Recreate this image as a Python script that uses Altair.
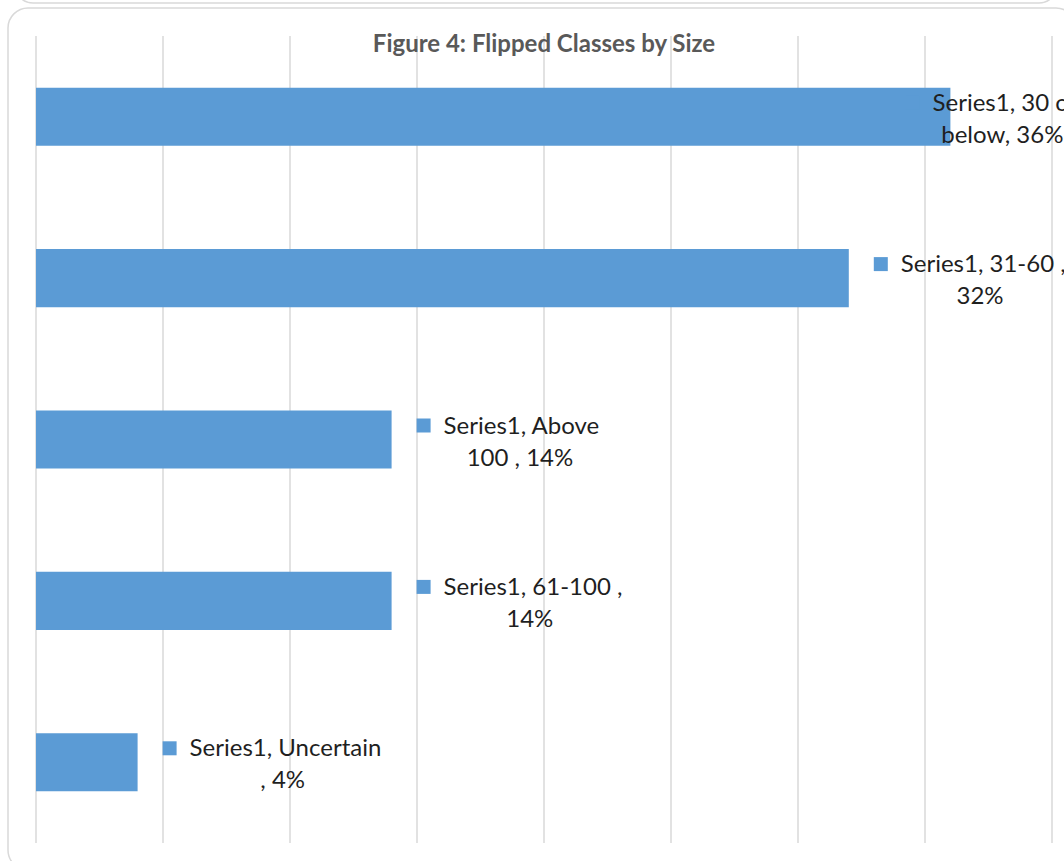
import altair as alt
import pandas as pd

# ---------------- data ----------------
chart_title = "Figure 4: Flipped Classes by Size"
categories = ["30 or below", "31-60", "Above 100", "61-100", "Uncertain"]
values = [36, 32, 14, 14, 4]
label_line1 = ["Series1, 30 or", "Series1, 31-60 ,", "Series1, Above",
               "Series1, 61-100 ,", "Series1, Uncertain"]
label_line2 = ["below, 36%", "32%", "100 , 14%", "14%", ", 4%"]
x_ticks = [0, 5, 10, 15, 20, 25, 30, 35, 40]

# ---------------- layout / style ----------------
W, H = 1016, 807
XMAX = 40
PX = W / XMAX
BAR_COLOR = "#5b9bd5"
GRID = "#d9d9d9"
FONT = "Lato"
LABEL_SIZE = 24
TITLE_SIZE = 24

# approximate Lato advance widths (em)
LATO_W = {
    "S": .51, "e": .52, "r": .36, "i": .24, "s": .42, ",": .2, " ": .19,
    "A": .68, "b": .56, "o": .56, "v": .50, "U": .67, "n": .56, "c": .46,
    "t": .36, "a": .49, "-": .35, "l": .24, "w": .76, "%": .78,
}
for d in "0123456789":
    LATO_W[d] = .58


def text_width(s, size):
    return sum(LATO_W.get(ch, .5) for ch in s) * size


rows = []
for c, v, l1, l2 in zip(categories, values, label_line1, label_line2):
    w1 = text_width(l1, LABEL_SIZE)
    start = v * PX + 52
    limit = W + 20
    if start + w1 > limit:
        start = limit - w1
    rows.append(dict(cat=c, value=v, line1=l1, line2=l2,
                     xsq=(start - 20) / PX, x1=start / PX,
                     xc=(start + w1 / 2) / PX))
df = pd.DataFrame(rows)
ticks_df = pd.DataFrame({"tick": x_ticks})
dummy = pd.DataFrame({"d": [0]})

xscale = alt.Scale(domain=[0, XMAX], nice=False, zero=True)
yscale = alt.Scale(paddingInner=0.64, paddingOuter=0.32)
ycat = alt.Y("cat:N", sort=categories, scale=yscale, axis=None)

outer_box = alt.Chart(dummy).mark_rect(
    fill="transparent", stroke=GRID, strokeWidth=1.5, cornerRadius=20,
    x=-28, x2=1040, y=-28, y2=834
)

upper_box = alt.Chart(dummy).mark_rect(
    fill="transparent", stroke=GRID, strokeWidth=1.5, cornerRadius=18,
    x=-21, x2=1021, y=-120, y2=-33
)

grid = alt.Chart(ticks_df).mark_rule(color=GRID, strokeWidth=1.5).encode(
    x=alt.X("tick:Q", scale=xscale, axis=None),
    y=alt.value(0), y2=alt.value(H),
)

bars = alt.Chart(df).mark_bar(color=BAR_COLOR).encode(
    x=alt.X("value:Q", scale=xscale, axis=None),
    y=ycat,
)

squares = alt.Chart(df).mark_square(
    color=BAR_COLOR, size=196, opacity=1, yOffset=-14
).encode(x=alt.X("xsq:Q", scale=xscale, axis=None), y=ycat)

line1 = alt.Chart(df).mark_text(
    align="left", baseline="middle", dy=-13, font=FONT, fontSize=LABEL_SIZE, color="#1f1f1f"
).encode(x=alt.X("x1:Q", scale=xscale, axis=None), y=ycat, text="line1:N")

line2 = alt.Chart(df).mark_text(
    align="center", baseline="middle", dy=19, font=FONT, fontSize=LABEL_SIZE, color="#1f1f1f"
).encode(x=alt.X("xc:Q", scale=xscale, axis=None), y=ycat, text="line2:N")

title = alt.Chart(dummy).mark_text(
    align="center", baseline="middle", font=FONT, fontSize=TITLE_SIZE,
    fontWeight="bold", color="#595959", text=chart_title, x=W / 2, y=9
)

chart = alt.layer(outer_box, upper_box, grid, bars, squares, line1, line2, title).properties(
    width=W, height=H,
    background="white",
    autosize=alt.AutoSizeParams(type="none"),
    padding={"left": 36, "top": 36, "right": 12, "bottom": 18},
).configure_view(stroke="transparent", strokeWidth=0)

chart.save("out.html", embed_options={"renderer": "svg", "actions": False})
